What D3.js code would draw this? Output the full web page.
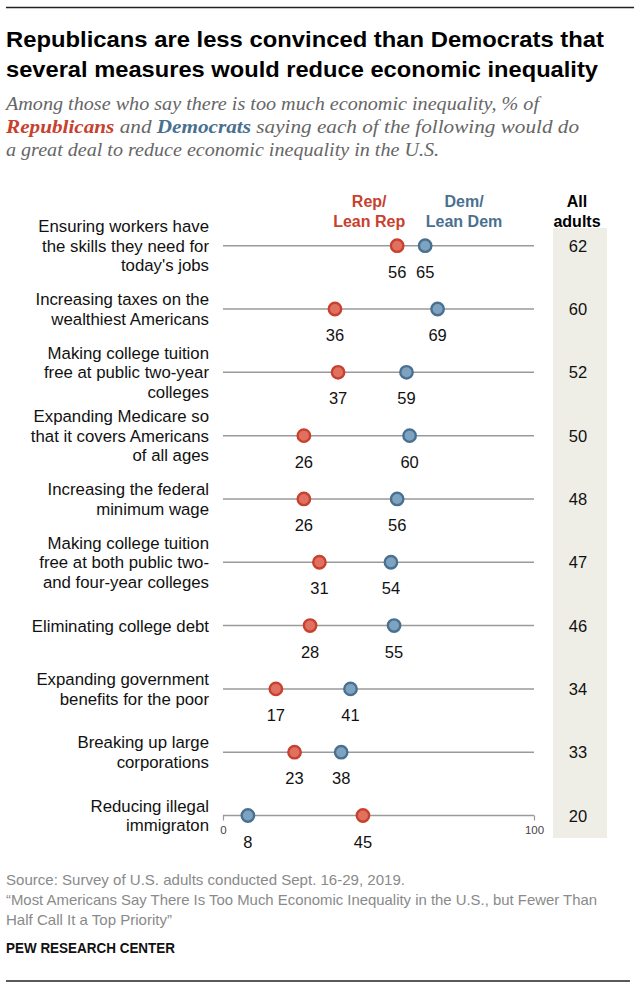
<!DOCTYPE html>
<html>
<head>
<meta charset="utf-8">
<script src="https://cdn.jsdelivr.net/npm/d3@7"></script>
<style>
  html, body { margin: 0; padding: 0; background: #fff; }
  svg { display: block; }
</style>
</head>
<body>
<svg id="chart" width="640" height="990"></svg>
<script>
// ---- data ----
const categories = [
  ["Ensuring workers have", "the skills they need for", "today's jobs"],
  ["Increasing taxes on the", "wealthiest Americans"],
  ["Making college tuition", "free at public two-year", "colleges"],
  ["Expanding Medicare so", "that it covers Americans", "of all ages"],
  ["Increasing the federal", "minimum wage"],
  ["Making college tuition", "free at both public two-", "and four-year colleges"],
  ["Eliminating college debt"],
  ["Expanding government", "benefits for the poor"],
  ["Breaking up large", "corporations"],
  ["Reducing illegal", "immigraton"]
];
const repValues = [56, 36, 37, 26, 26, 31, 28, 17, 23, 45];
const demValues = [65, 69, 59, 60, 56, 54, 55, 41, 38, 8];
const allAdults = [62, 60, 52, 50, 48, 47, 46, 34, 33, 20];
const axisTicks = [0, 100];

const titleLines = [
  "Republicans are less convinced than Democrats that",
  "several measures would reduce economic inequality"
];
const footLines = [
  "Source: Survey of U.S. adults conducted Sept. 16-29, 2019.",
  "\u201cMost Americans Say There Is Too Much Economic Inequality in the U.S., but Fewer Than",
  "Half Call It a Top Priority\u201d"
];

// ---- styles ----
const REP = "#c8412f", REP_FILL = "#e0705f";
const DEM = "#4a7090", DEM_FILL = "#7ea3c0";
const SANS = "'Liberation Sans', Arial, sans-serif";
const SERIF = "'Liberation Serif', 'DejaVu Serif', serif";

const svg = d3.select("#chart");

// rules
svg.append("line").attr("x1", 6).attr("x2", 634).attr("y1", 7.5).attr("y2", 7.5)
  .attr("stroke", "#222").attr("stroke-width", 1.5);
svg.append("line").attr("x1", 6).attr("x2", 630).attr("y1", 981).attr("y2", 981)
  .attr("stroke", "#222").attr("stroke-width", 1.5);

// title
const titleW = [598, 592];
titleLines.forEach((t, i) => {
  svg.append("text").attr("x", 6).attr("y", 46.5 + i * 30.7)
    .attr("font-family", SANS).attr("font-weight", "bold").attr("font-size", 22.5)
    .attr("fill", "#000")
    .attr("textLength", titleW[i]).attr("lengthAdjust", "spacingAndGlyphs")
    .text(t);
});

// subtitle
const sub = [
  [{t: "Among those who say there is too much economic inequality, % of"}],
  [{t: "Republicans", c: REP, b: true}, {t: " and "}, {t: "Democrats", c: DEM, b: true},
   {t: " saying each of the following would do"}],
  [{t: "a great deal to reduce economic inequality in the U.S."}]
];
const subW = [533, 573, 433];
sub.forEach((parts, i) => {
  const tx = svg.append("text").attr("x", 6).attr("y", 110 + i * 23.2)
    .attr("font-family", SERIF).attr("font-style", "italic").attr("font-size", 18)
    .attr("fill", "#666")
    .attr("textLength", subW[i]).attr("lengthAdjust", "spacingAndGlyphs");
  parts.forEach(p => {
    tx.append("tspan").attr("fill", p.c || "#666")
      .attr("font-weight", p.b ? "bold" : "normal").text(p.t);
  });
});

// scales
const x = d3.scaleLinear().domain([0, 100]).range([223, 534]);
const idx = d3.range(categories.length);
const y = d3.scalePoint().domain(idx).range([245.7, 815.5]);

// all adults column
const colX0 = 553, colX1 = 607;
svg.append("rect").attr("x", colX0).attr("y", 228).attr("width", colX1 - colX0)
  .attr("height", 838 - 228).attr("fill", "#efeee6");

// column headers
const heads = [
  {lines: ["Rep/", "Lean Rep"], cx: x(47), c: REP},
  {lines: ["Dem/", "Lean Dem"], cx: x(77.5), c: DEM},
  {lines: ["All", "adults"], cx: (colX0 + colX1) / 2 - 3, c: "#000"}
];
heads.forEach(h => {
  h.lines.forEach((l, j) => {
    svg.append("text").attr("x", h.cx).attr("y", 207 + j * 20)
      .attr("text-anchor", "middle").attr("font-family", SANS)
      .attr("font-weight", "bold").attr("font-size", 16).attr("fill", h.c).text(l);
  });
});

// rows
const rows = svg.append("g");
idx.forEach(i => {
  const cy = y(i);
  const g = rows.append("g");
  // category label
  const lines = categories[i];
  const lh = 19.6;
  lines.forEach((l, j) => {
    g.append("text").attr("x", 209).attr("y", cy + (j - (lines.length - 1) / 2) * lh + 6)
      .attr("text-anchor", "end").attr("font-family", SANS).attr("font-size", 16.8)
      .attr("fill", "#111").text(l);
  });
  // track line
  g.append("line").attr("x1", x(0)).attr("x2", x(100)).attr("y1", cy).attr("y2", cy)
    .attr("stroke", "#9a9a9a").attr("stroke-width", 1.5);
  // dots
  const pts = [
    {v: repValues[i], f: REP_FILL, s: REP},
    {v: demValues[i], f: DEM_FILL, s: DEM}
  ];
  pts.forEach(p => {
    g.append("circle").attr("cx", x(p.v)).attr("cy", cy).attr("r", 6.2)
      .attr("fill", p.f).attr("stroke", p.s).attr("stroke-width", 2.4);
    g.append("text").attr("x", x(p.v)).attr("y", cy + 32)
      .attr("text-anchor", "middle").attr("font-family", SANS).attr("font-size", 16.5)
      .attr("fill", "#111").text(p.v);
  });
  // all adults
  g.append("text").attr("x", (colX0 + colX1) / 2 - 2).attr("y", cy + 6)
    .attr("text-anchor", "middle").attr("font-family", SANS).attr("font-size", 16.5)
    .attr("fill", "#111").text(allAdults[i]);
});

// axis on last row
const axis = d3.axisBottom(x).tickValues(axisTicks).tickSize(5).tickPadding(5)
  .tickFormat(d3.format("d"));
const ax = svg.append("g").attr("transform", `translate(0,${y(idx[idx.length - 1])})`).call(axis);
ax.select(".domain").remove();
ax.selectAll(".tick line").attr("stroke", "#9a9a9a").attr("stroke-width", 1.2);
ax.selectAll(".tick text").attr("font-family", SANS).attr("font-size", 11.5)
  .attr("fill", "#444");

// footer
const footW = [399, 591, 166];
footLines.forEach((l, i) => {
  svg.append("text").attr("x", 6).attr("y", 885 + i * 20)
    .attr("font-family", SANS).attr("font-size", 14.5).attr("fill", "#8a8a8a")
    .attr("textLength", footW[i]).attr("lengthAdjust", "spacingAndGlyphs").text(l);
});
svg.append("text").attr("x", 6).attr("y", 953)
  .attr("font-family", SANS).attr("font-weight", "bold").attr("font-size", 14.5)
  .attr("fill", "#111").attr("textLength", 169).attr("lengthAdjust", "spacingAndGlyphs")
  .text("PEW RESEARCH CENTER");
</script>
</body>
</html>
